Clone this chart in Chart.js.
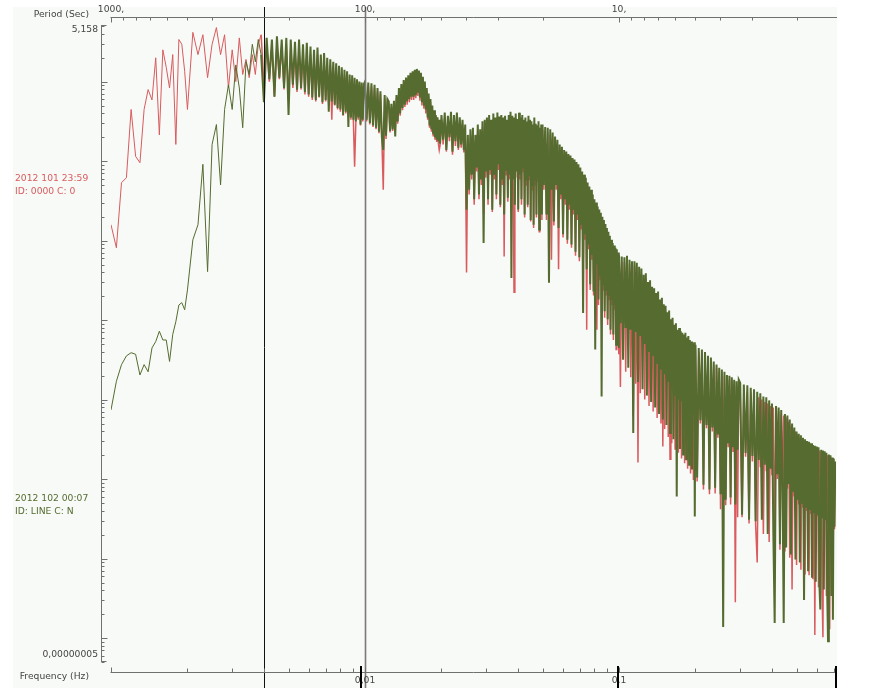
<!DOCTYPE html>
<html>
<head>
<meta charset="utf-8">
<title>Spectrum</title>
<script src="https://cdn.jsdelivr.net/npm/chart.js@4"></script>
<style>
  html, body { margin: 0; padding: 0; background: #ffffff; }
  #wrap { width: 882px; height: 688px; }
</style>
</head>
<body>
<div id="wrap"><canvas id="spectrum" width="882" height="688"></canvas></div>
<script>
// FFT bin layout: start frequency, bin step and bin count per band (Hz)
const bandStartHz = [0.001, 0.002, 0.004, 0.010, 0.020, 0.050, 0.100, 0.200, 0.300];
const bandStepHz = [0.00005, 0.0001, 0.0001, 0.00015, 0.0003, 0.0006, 0.00125, 0.003, 0.005];
const bandBins = [20, 20, 60, 66, 100, 84, 80, 33, 83];

// log10 of the spectral amplitude, one value per bin
const redLogPsd = [
  // 0.001 - 0.002
  -1.80, -2.09, -1.27, -1.21, -0.35, -0.94, -1.02, -0.35, -0.10, -0.23, 0.30, -0.67, 0.40, 0.18, -0.08, 0.34, -0.79, 0.53, 0.47, 0.13,
  // 0.002 - 0.004
  -0.35, 0.62, 0.34, 0.59, 0.05, 0.47, 0.68, 0.34, 0.59, -0.08, 0.40, 0.00, 0.55, 0.09, 0.28, 0.05, 0.34, 0.09, 0.47, 0.59,
  // 0.004 - 0.010
  -0.04, 0.47, 0.00, 0.44, -0.19, 0.48, 0.03, 0.45, -0.10, 0.47,
  -0.20, 0.43, -0.08, 0.40, -0.13, 0.44, -0.10, 0.38, -0.16, 0.40,
  -0.19, 0.34, -0.23, 0.33, -0.25, 0.34, -0.20, 0.28, -0.28, 0.28,
  -0.25, 0.24, -0.30, 0.21, -0.48, 0.19, -0.30, 0.15, -0.35, 0.13,
  -0.38, 0.10, -0.43, 0.08, -0.40, 0.05, -0.45, 0.03, -0.48, 0.00,
  -0.50, -1.07, -0.53, -0.04, -0.48, -0.05, -0.55, -0.08, -0.50, -0.10,
  // 0.010 - 0.020
  -0.04, -0.50, -0.05, -0.54, -0.06, -0.57, -0.08, -0.60, -0.12, -0.65, -0.16, -0.72,
  -1.36, -0.21, -0.72, -0.25, -0.29, -0.64, -0.32, -0.62, -0.28, -0.60, -0.21, -0.53,
  -0.12, -0.43, -0.07, -0.36, -0.02, -0.32, 0.01, -0.29, 0.04, -0.26, 0.07, -0.23,
  0.09, -0.23, 0.11, -0.21, 0.12, -0.18, 0.10, -0.24, 0.07, -0.30, 0.02, -0.34,
  -0.04, -0.40, -0.12, -0.48, -0.19, -0.58, -0.26, -0.63, -0.34, -0.69, -0.40, -0.73,
  -0.46, -0.76, -0.49, -0.78, -0.86, -0.80,
  // 0.020 - 0.050
  -0.48, -0.79, -0.45, -0.88, -0.49, -0.75, -0.45, -0.92, -0.48, -0.81, -0.45, -0.86, -0.52, -0.83, -0.54, -0.89,
  -0.60, -2.40, -0.73, -1.42,
  -0.67, -1.23, -0.64, -1.55, -0.73, -1.13, -0.60, -1.48, -0.67, -1.30, -0.57, -1.67, -0.54, -1.21,
  -0.52, -1.55, -0.48, -1.17, -0.54, -1.64, -0.47, -1.23, -0.52, -1.48, -0.45, -1.11, -0.50, -1.58, -0.48, -1.30,
  -0.52, -2.20, -0.49, -1.17, -0.54, -1.51, -0.48, -1.23, -0.44, -1.61, -0.49, -1.30, -2.65, -0.52, -1.21, -0.47, -0.53,
  -1.64, -0.45, -1.23, -0.52, -1.55, -0.48, -1.13, -0.54, -1.71, -0.52, -1.30, -0.57, -1.58, -0.49, -1.23, -0.54, -1.76,
  -0.57, -1.36, -0.60, -1.84, -0.52, -1.30, -0.59, -1.71, -0.62, -1.26, -0.57, -1.89, -0.64, -1.42, -0.60, -1.74,
  // 0.050 - 0.100
  -0.60, -1.36, -0.63, -1.74, -0.64, -1.80, -0.67, -2.24, -0.70,
  -1.81, -0.75, -1.36, -0.79, -2.36, -0.86, -1.48, -0.88,
  -1.96, -0.92, -1.55, -0.94, -2.04, -0.97, -1.61, -0.99,
  -2.09, -1.01, -1.67, -1.04, -2.19, -1.07, -1.74, -1.11, -2.26,
  -1.14, -1.86, -1.19, -2.49, -1.23, -1.99, -1.27, -3.12,
  -1.33, -2.11, -1.38, -2.62, -1.42, -2.24, -1.48, -2.69,
  -1.55, -2.81, -1.58, -3.12, -1.64, -2.81, -1.67, -2.49, -1.71,
  -3.06, -1.76, -2.62, -1.80, -2.97, -1.85, -2.68, -1.90,
  -3.06, -1.95, -2.74, -2.00, -3.18, -2.05, -2.81, -2.09,
  -3.25, -2.13, -2.87, -2.15, -3.37, -2.18, -2.93, -2.21, -3.43,
  // 0.100 - 0.200
  -2.24, -3.84, -2.26, -3.10, -2.27, -3.65, -2.25, -3.15, -2.30, -3.72, -2.32, -4.21,
  -2.32, -3.80, -2.34, -4.79, -2.39, -3.92, -2.41, -3.26, -2.49, -4.00, -2.47, -3.36,
  -2.58, -4.08, -2.56, -3.46, -2.64, -4.15, -2.66, -3.51, -2.72, -4.23, -2.70, -3.61,
  -2.80, -4.30, -2.78, -4.59, -2.86, -4.37, -2.88, -3.74, -2.96, -4.47, -2.94, -4.75,
  -3.05, -4.55, -3.03, -3.92, -3.12, -4.62, -3.10, -4.00, -3.18, -4.67, -3.16, -4.06,
  -3.20, -4.74, -3.22, -4.08, -3.24, -4.80, -3.22, -4.12, -3.28, -4.87, -3.26, -4.16,
  -3.31, -4.93, -3.33, -4.19, -3.36, -5.01, -3.34, -4.24,
  // 0.200 - 0.300
  -3.37, -5.03, -3.40, -4.30, -3.43, -5.13, -3.45, -4.36, -3.50, -5.19, -3.52, -4.40, -3.57, -5.18, -3.60, -4.48, -3.65, -5.38, -3.66, -4.55,
  -3.70, -5.33, -3.72, -4.60, -3.75, -5.32, -3.77, -4.66, -3.80, -6.55, -3.82, -5.48, -3.81,
  // 0.300 - 0.710
  -3.85, -5.48, -3.87, -4.72, -3.90, -5.56, -3.91, -4.78, -3.94, -5.58, -6.05, -3.97, -4.85, -4.00, -5.69, -4.03, -4.90, -4.05, -5.79, -4.08,
  -4.95, -4.10, -5.76, -4.13, -5.00, -4.15, -5.89, -4.18, -5.05, -4.20, -5.91, -4.23, -5.12, -4.28, -5.99, -4.33, -6.39, -4.38, -5.22, -4.40,
  -6.08, -4.45, -5.32, -4.48, -6.14, -4.50, -5.36, -4.53, -6.20, -4.55, -5.40, -4.57, -6.21, -4.58, -5.43, -4.59, -6.26, -4.60, -6.96, -4.62,
  -5.47, -4.63, -6.36, -4.64, -5.49, -4.65, -6.42, -6.99, -4.67, -5.52, -4.69, -6.47, -4.70, -5.56, -4.72, -6.89, -4.73, -5.58, -4.74, -6.54,
  -4.75, -5.63, -4.79
];

const greenLogPsd = [
  // 0.001 - 0.002
  -4.13, -3.77, -3.56, -3.45, -3.41, -3.43, -3.69, -3.56, -3.65, -3.35, -3.27, -3.14, -3.25, -3.25, -3.52, -3.18, -3.02, -2.81, -2.78, -2.87,
  // 0.002 - 0.004
  -2.62, -1.99, -1.80, -1.04, -2.39, -0.79, -0.54, -1.30, -0.35, -0.04, -0.35, 0.21, -0.08, -0.58, 0.25, 0.09, 0.47, 0.25, 0.53, 0.34,
  // 0.004 - 0.010
  -0.26, 0.55, 0.03, 0.53, -0.19, 0.57, 0.05, 0.53, -0.08, 0.55,
  -0.42, 0.53, -0.04, 0.50, -0.10, 0.53, -0.08, 0.47, -0.13, 0.49,
  -0.16, 0.44, -0.20, 0.40, -0.23, 0.43, -0.19, 0.34, -0.26, 0.36,
  -0.23, 0.30, -0.38, 0.28, -0.25, 0.25, -0.29, 0.23, -0.33, 0.20,
  -0.35, 0.18, -0.42, 0.15, -0.38, 0.13, -0.57, 0.09, -0.45, 0.08,
  -0.48, 0.05, -0.50, 0.03, -0.45, 0.00, -0.54, -0.01, -0.48, -0.03,
  // 0.010 - 0.020
  0.00, -0.48, -0.01, -0.52, -0.02, -0.55, -0.04, -0.58, -0.08, -0.63, -0.12, -0.70,
  -0.86, -0.17, -0.68, -0.22, -0.25, -0.62, -0.28, -0.60, -0.24, -0.69, -0.17, -0.50,
  -0.08, -0.40, -0.03, -0.33, 0.02, -0.29, 0.05, -0.25, 0.08, -0.22, 0.11, -0.19,
  0.13, -0.19, 0.15, -0.17, 0.16, -0.14, 0.14, -0.20, 0.11, -0.26, 0.06, -0.30,
  0.00, -0.35, -0.08, -0.45, -0.15, -0.55, -0.22, -0.60, -0.30, -0.66, -0.36, -0.70,
  -0.42, -0.73, -0.45, -0.75, -0.48, -0.78,
  // 0.020 - 0.050
  -0.42, -0.73, -0.39, -0.86, -0.43, -0.70, -0.38, -0.88, -0.42, -0.75, -0.39, -0.83, -0.45, -0.79, -0.48, -0.86,
  -0.54, -1.61, -0.67, -1.36,
  -0.60, -1.17, -0.58, -1.48, -0.67, -1.08, -0.54, -1.42, -0.60, -1.23, -0.50, -2.03, -0.48, -1.13,
  -0.45, -1.48, -0.42, -1.11, -0.48, -1.61, -0.40, -1.17, -0.45, -1.42, -0.39, -1.04, -0.44, -1.55, -0.42, -1.23,
  -0.45, -1.67, -0.43, -1.11, -0.48, -1.46, -0.42, -1.17, -0.38, -2.47, -0.43, -1.23, -0.45, -1.55, -0.40, -1.13, -0.47,
  -1.61, -0.39, -1.17, -0.45, -1.48, -0.42, -1.08, -0.48, -1.67, -0.45, -1.23, -0.50, -1.55, -0.43, -1.17, -0.48, -1.74,
  -0.50, -1.30, -0.54, -1.80, -0.45, -1.23, -0.53, -1.67, -0.55, -1.21, -0.50, -1.86, -0.58, -1.36, -0.54, -1.67,
  // 0.050 - 0.100
  -0.54, -1.30, -0.57, -1.67, -0.58, -2.53, -0.60, -1.36, -0.64,
  -1.76, -0.69, -1.30, -0.73, -1.84, -0.79, -1.42, -0.82,
  -1.92, -0.86, -1.48, -0.88, -1.99, -0.91, -1.55, -0.93,
  -2.05, -0.96, -1.61, -0.98, -2.14, -1.01, -1.67, -1.04, -2.21,
  -1.08, -1.80, -1.13, -2.91, -1.17, -1.92, -1.21, -2.36,
  -1.27, -2.05, -1.32, -2.55, -1.36, -2.18, -1.42, -2.64,
  -1.48, -3.37, -1.52, -2.30, -1.57, -2.74, -1.61, -2.43, -1.65,
  -3.96, -1.70, -2.55, -1.74, -2.89, -1.79, -2.62, -1.84,
  -2.99, -1.89, -2.68, -1.94, -3.12, -1.99, -2.74, -2.03,
  -3.18, -2.06, -2.81, -2.09, -3.31, -2.11, -2.87, -2.15, -3.35,
  // 0.100 - 0.200
  -2.18, -3.04, -2.20, -3.50, -2.21, -3.10, -2.19, -3.60, -2.24, -3.12, -2.26, -4.42,
  -2.26, -3.15, -2.28, -3.78, -2.33, -3.20, -2.35, -3.87, -2.43, -3.30, -2.41, -3.95,
  -2.52, -3.40, -2.50, -4.03, -2.58, -3.45, -2.60, -4.10, -2.66, -3.55, -2.64, -4.18,
  -2.74, -3.62, -2.72, -4.25, -2.80, -3.68, -2.82, -4.32, -2.90, -3.78, -2.88, -4.42,
  -2.99, -3.86, -2.97, -4.50, -3.06, -3.94, -3.04, -5.22, -3.12, -4.00, -3.10, -4.62,
  -3.14, -4.02, -3.16, -4.69, -3.18, -4.06, -3.16, -4.75, -3.22, -4.10, -3.20, -4.82,
  -3.25, -4.13, -3.27, -4.88, -3.30, -4.18, -3.28, -5.47,
  // 0.200 - 0.300
  -3.31, -4.98, -3.35, -4.26, -3.37, -5.07, -3.40, -4.32, -3.45, -5.13, -3.47, -4.35, -3.52, -5.11, -3.56, -4.44, -3.60, -5.19, -3.62, -6.86,
  -3.65, -5.26, -3.69, -4.55, -3.70, -5.23, -3.72, -4.60, -3.75, -5.32, -3.77, -4.63, -3.75,
  // 0.300 - 0.710
  -3.79, -5.45, -3.81, -4.67, -3.82, -5.51, -3.85, -4.71, -3.87, -5.53, -3.90, -4.76, -3.92, -5.51, -3.96, -4.82, -3.97, -5.69, -4.01, -4.87,
  -4.05, -5.66, -6.81, -4.08, -4.94, -4.10, -5.82, -4.13, -4.99, -6.81, -4.18, -5.86, -4.20, -5.06, -4.25, -5.95, -4.30, -5.16, -4.35, -6.01,
  -4.40, -5.26, -4.43, -6.05, -4.45, -5.31, -4.48, -6.52, -4.50, -5.36, -4.52, -6.16, -4.53, -5.39, -4.55, -6.24, -4.57, -5.43, -4.58, -6.29,
  -4.59, -5.45, -4.60, -6.33, -6.64, -4.63, -5.48, -4.64, -6.39, -4.65, -5.51, -4.67, -6.42, -7.04, -4.69, -5.55, -4.70, -6.47, -4.73, -6.77,
  -4.74, -5.60, -4.78
];

// axis ranges and labels
const freqMinHz = 0.001;
const freqMaxHz = 0.7148;
const ampMin = 0.00000005;
const ampMax = 5.158;
const ampLabels = ['5,158', '0,00000005'];
const periodLabelSec = [1000, 100, 10];
const periodLabelText = ['1000,', '100,', '10,'];
const freqLabelHz = [0.01, 0.1];
const freqLabelText = ['0,01', '0,1'];
const freqMarkHz = [0.0096, 0.0988, 0.7148];   // bold marks under the frequency axis
const markerFreqHz = [0.004, 0.01];            // vertical cursor lines
const denseFromHz = 0.0039;                    // above this the FFT bins crowd together

// the two traces
const traceNames = ['2012 102 00:07', '2012 101 23:59'];
const traceIds = ['ID: LINE C: N', 'ID: 0000 C: 0'];
const traceColors = ['#556b2f', '#d95b5e'];

// Build frequency axis from the bin layout
const freqHz = [];
bandStartHz.forEach((start, b) => {
    for (let k = 0; k < bandBins[b]; k++) {
        freqHz.push(+(start + k * bandStepHz[b]).toFixed(6));
    }
});

function toPoints(logValues) {
    const n = Math.min(freqHz.length, logValues.length);
    const pts = [];
    for (let i = 0; i < n; i++) {
        pts.push({ x: freqHz[i], y: Math.pow(10, logValues[i]) });
    }
    return pts;
}

// Axes, cursor lines and labels drawn by hand, positioned from the chart scales
const framePlugin = {
    id: 'frame',
    beforeDraw(chart) {
        const ctx = chart.ctx;
        ctx.save();
        ctx.fillStyle = '#ffffff';
        ctx.fillRect(0, 0, chart.width, chart.height);
        ctx.fillStyle = '#f8faf7';
        ctx.fillRect(13, 7, 824, 681);
        ctx.restore();
    },
    afterDatasetsDraw(chart) {
        const ctx = chart.ctx;
        const xs = chart.scales.x;
        const ys = chart.scales.y;
        const area = chart.chartArea;

        function seg(x1, y1, x2, y2) {
            ctx.beginPath();
            ctx.moveTo(x1, y1);
            ctx.lineTo(x2, y2);
            ctx.stroke();
        }
        const px = f => Math.round(xs.getPixelForValue(f)) + 0.5;
        const py = v => Math.round(ys.getPixelForValue(v)) + 0.5;

        ctx.save();

        // cursor lines
        ctx.strokeStyle = '#111111';
        ctx.lineWidth = 1;
        seg(px(markerFreqHz[0]), 7, px(markerFreqHz[0]), 688);
        ctx.strokeStyle = '#7a7a7a';
        ctx.lineWidth = 1.6;
        seg(px(markerFreqHz[1]), 7, px(markerFreqHz[1]), 688);

        ctx.lineWidth = 1;
        ctx.strokeStyle = '#707070';

        // amplitude axis (left)
        const yAxisX = area.left - 9.5;
        seg(yAxisX, ys.top, yAxisX, ys.bottom);
        for (let e = -8; e <= 0; e++) {
            for (let m = 1; m <= 9; m++) {
                const v = m * Math.pow(10, e);
                if (v < ampMin || v > ampMax) continue;
                seg(yAxisX, py(v), yAxisX + (m === 1 ? 6 : 3), py(v));
            }
        }
        seg(yAxisX, ys.top + 0.5, yAxisX + 5, ys.top + 0.5);
        seg(yAxisX, ys.bottom - 0.5, yAxisX + 5, ys.bottom - 0.5);

        // period axis (top)
        const topY = area.top - 7.5;
        seg(area.left - 0.5, topY, area.right + 1, topY);
        [1000, 100, 10, 1].forEach(d => {
            for (let m = 1; m <= 9; m++) {
                const f = 1 / (m * d);
                if (f < freqMinHz * 0.9999 || f > freqMaxHz) continue;
                seg(px(f), topY, px(f), topY + (m === 1 ? 5 : 3));
            }
        });

        // frequency axis (bottom)
        const botY = area.bottom + 10.5;
        seg(area.left - 0.5, botY, area.right, botY);
        for (let e = -3; e <= -1; e++) {
            for (let m = 1; m <= 9; m++) {
                const f = m * Math.pow(10, e);
                if (f < freqMinHz * 0.9999 || f > freqMaxHz) continue;
                seg(px(f), botY, px(f), botY - (m === 1 ? 5 : 4));
            }
        }

        // labels
        ctx.font = '9.2px "DejaVu Sans", sans-serif';
        ctx.textBaseline = 'middle';
        ctx.fillStyle = '#444444';
        ctx.textAlign = 'center';
        periodLabelSec.forEach((p, i) => {
            ctx.fillText(periodLabelText[i], xs.getPixelForValue(1 / p), 10);
        });
        freqLabelHz.forEach((f, i) => {
            ctx.fillText(freqLabelText[i], xs.getPixelForValue(f), 681);
        });
        ctx.textAlign = 'right';
        ctx.fillText('Period (Sec)', 89, 15);
        ctx.fillText('Frequency (Hz)', 89, 677);
        ctx.fillText(ampLabels[0], 98, ys.top + 5);
        ctx.fillText(ampLabels[1], 98, ys.bottom - 7);

        // bold marks under the frequency axis
        ctx.fillStyle = '#000000';
        freqMarkHz.forEach(f => {
            const x = Math.round(xs.getPixelForValue(f));
            ctx.fillRect(x - 1, 666, 2, 22);
        });

        // trace captions
        ctx.textAlign = 'left';
        ctx.fillStyle = traceColors[1];
        ctx.fillText(traceNames[1], 15, 179);
        ctx.fillText(traceIds[1], 15, 192);
        ctx.fillStyle = traceColors[0];
        ctx.fillText(traceNames[0], 15, 499);
        ctx.fillText(traceIds[0], 15, 512);

        ctx.restore();
    }
};

// thin lines where bins are sparse, heavier where they crowd into a band
function bandWidth(thin, thick) {
    return c => (c.p0.parsed.x >= denseFromHz ? thick : thin);
}

document.addEventListener('DOMContentLoaded', function() {
    const ctx = document.getElementById('spectrum').getContext('2d');
    new Chart(ctx, {
        type: 'line',
        data: {
            datasets: [
                {
                    label: traceNames[0],
                    data: toPoints(greenLogPsd),
                    borderColor: traceColors[0],
                    borderWidth: 1,
                    segment: { borderWidth: bandWidth(1, 2) },
                    pointRadius: 0,
                    tension: 0,
                    fill: false
                },
                {
                    label: traceNames[1],
                    data: toPoints(redLogPsd),
                    borderColor: traceColors[1],
                    borderWidth: 1,
                    segment: { borderWidth: bandWidth(1, 1.5) },
                    pointRadius: 0,
                    tension: 0,
                    fill: false
                }
            ]
        },
        options: {
            responsive: false,
            animation: false,
            events: [],
            parsing: false,
            normalized: true,
            layout: { padding: { left: 111, right: 46, top: 25, bottom: 26 } },
            scales: {
                x: {
                    type: 'logarithmic',
                    min: freqMinHz,
                    max: freqMaxHz,
                    bounds: 'data',
                    display: false
                },
                y: {
                    type: 'logarithmic',
                    min: ampMin,
                    max: ampMax,
                    bounds: 'data',
                    display: false
                }
            },
            plugins: {
                legend: { display: false },
                tooltip: { enabled: false }
            }
        },
        plugins: [framePlugin]
    });
});
</script>
</body>
</html>
